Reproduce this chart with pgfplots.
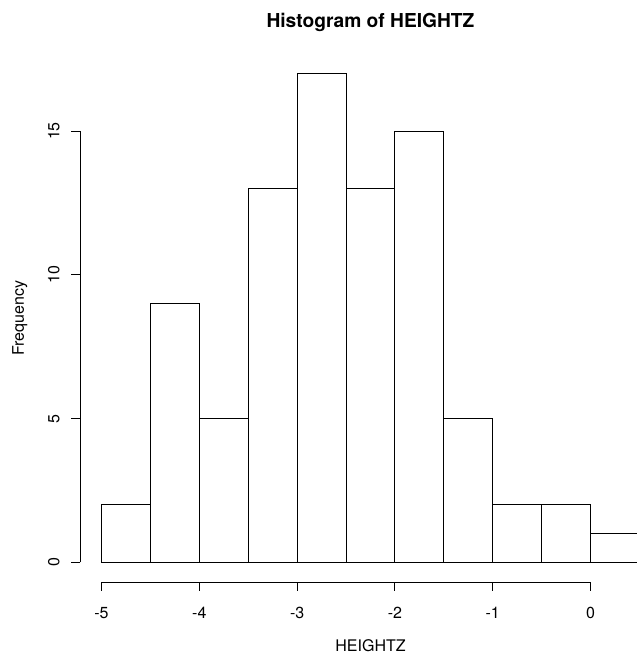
\documentclass[border=0pt]{standalone}
\usepackage{fontspec}
\setmainfont{TeX Gyre Heros}
\usepackage{pgfplots}
\pgfplotsset{compat=1.18}
\begin{document}
\begin{tikzpicture}
\useasboundingbox (0,0) rectangle (477pt,492pt);
\begin{axis}[
  at={(60pt,55.5pt)}, anchor=south west,
  width=435.75pt, height=396pt, scale only axis,
  xmin=-5.22, xmax=0.72, ymin=-0.68, ymax=17.68,
  axis line style={draw=none},
  clip=false,
  xtick={-5,-4,-3,-2,-1,0},
  ytick={0,5,10,15},
  xtick pos=bottom, ytick pos=left,
  tick align=outside,
  major tick length=6.5pt,
  tick style={black, line width=0.7pt},
  /pgf/number format/assume math mode=true,
  ticklabel style={font=\fontsize{12}{14}\selectfont},
  xticklabel style={yshift=-9pt},
  yticklabel style={rotate=90, anchor=base, yshift=9pt},
  title={\textbf{Histogram of HEIGHTZ}},
  title style={at={(axis description cs:0.5,1)}, anchor=base, yshift=13.5pt, font=\fontsize{14.4}{16}\selectfont},
  xlabel={HEIGHTZ},
  xlabel style={at={(axis description cs:0.5,0)}, anchor=base, yshift=-52pt, font=\fontsize{12}{14}\selectfont},
  ylabel={Frequency},
  ylabel style={at={(axis description cs:-0.0964,0.5)}, anchor=base, font=\fontsize{12}{14}\selectfont},
]
\addplot[ybar interval, draw=black, fill=none, line width=0.8pt] coordinates {
(-5,2) (-4.5,9) (-4,5) (-3.5,13) (-3,17) (-2.5,13) (-2,15) (-1.5,5) (-1,2) (-0.5,2) (0,1) (0.5,1)
};
\draw[black, line width=0.7pt] (axis cs:-5,-0.68) -- (axis cs:0,-0.68);
\draw[black, line width=0.7pt] (axis cs:-5.22,0) -- (axis cs:-5.22,15);
\end{axis}
\end{tikzpicture}
\end{document}
